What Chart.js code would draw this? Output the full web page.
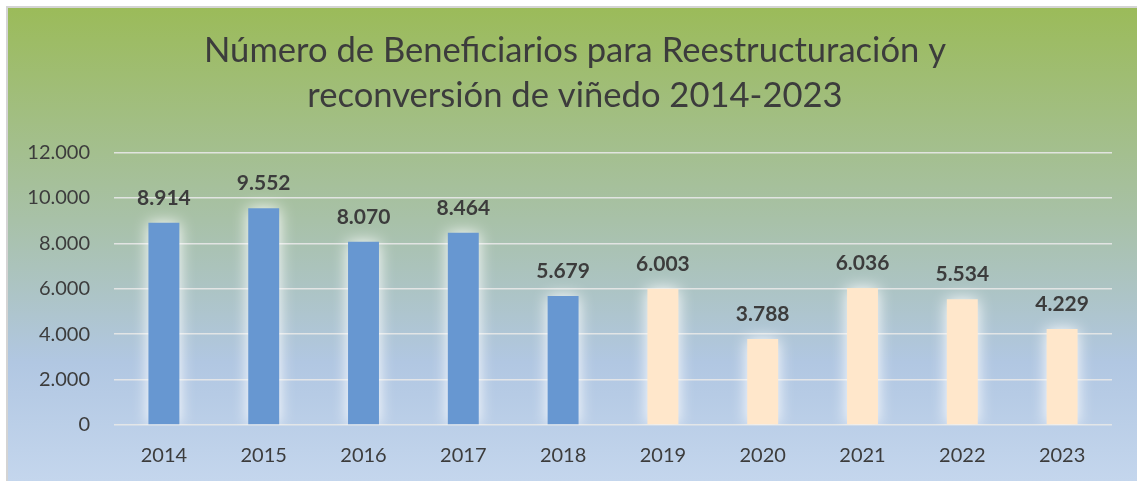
<!DOCTYPE html>
<html>
<head>
<meta charset="utf-8">
<script src="https://cdn.jsdelivr.net/npm/chart.js@4"></script>
<style>
  html, body { margin: 0; padding: 0; background: #fff; overflow: hidden; }
  #wrap { width: 1137px; height: 481px; }
  canvas { display: block; }
</style>
</head>
<body>
<div id="wrap"><canvas id="chart" width="1137" height="481"></canvas></div>
<script>
// data
const years = ['2014', '2015', '2016', '2017', '2018', '2019', '2020', '2021', '2022', '2023'];
const beneficiarios = [8914, 9552, 8070, 8464, 5679, 6003, 3788, 6036, 5534, 4229];
const yTicks = [0, 2000, 4000, 6000, 8000, 10000, 12000];
const titleLines = ['Número de Beneficiarios para Reestructuración y', 'reconversión de viñedo 2014-2023'];

const BLUE = '#6797D1';
const PEACH = '#FFE7CB';
const TEXT = '#3c3c3c';
const barColors = years.map(y => Number(y) < 2019 ? BLUE : PEACH);

const fmt = v => String(v).replace(/\B(?=(\d{3})+(?!\d))/g, '.');

// gradient panel + border
const background = {
  id: 'background',
  beforeDraw(chart) {
    const { ctx, width, height } = chart;
    ctx.save();
    ctx.fillStyle = '#fff';
    ctx.fillRect(0, 0, width, height);
    const g = ctx.createLinearGradient(0, 7, 0, height);
    g.addColorStop(0, '#9BBB59');
    g.addColorStop(0.45, '#A8C1A8');
    g.addColorStop(0.75, '#B1C7E2');
    g.addColorStop(1, '#C4D6ED');
    ctx.fillStyle = g;
    ctx.fillRect(7, 7, width - 7, height - 7);
    ctx.strokeStyle = '#D4D4D4';
    ctx.lineWidth = 2;
    ctx.beginPath();
    ctx.moveTo(7, height);
    ctx.lineTo(7, 7);
    ctx.lineTo(width, 7);
    ctx.stroke();
    ctx.restore();
  }
};

// soft white glow round the bars
const glow = {
  id: 'glow',
  beforeDatasetDraw(chart) {
    const ctx = chart.ctx;
    ctx.save();
    ctx.shadowColor = 'rgba(255,255,255,1)';
    ctx.shadowBlur = 16;
  },
  afterDatasetDraw(chart) {
    chart.ctx.restore();
  }
};

// value labels above bars
const valueLabels = {
  id: 'valueLabels',
  afterDatasetsDraw(chart) {
    const { ctx } = chart;
    const meta = chart.getDatasetMeta(0);
    ctx.save();
    ctx.font = 'bold 21px Lato';
    ctx.fillStyle = TEXT;
    ctx.textAlign = 'center';
    ctx.textBaseline = 'alphabetic';
    meta.data.forEach((bar, i) => {
      ctx.fillText(fmt(beneficiarios[i]), bar.x, bar.y - 18);
    });
    ctx.restore();
  }
};

new Chart(document.getElementById('chart'), {
  type: 'bar',
  data: {
    labels: years,
    datasets: [{
      data: beneficiarios,
      backgroundColor: barColors,
      borderWidth: 0,
      categoryPercentage: 1,
      barPercentage: 0.31
    }]
  },
  options: {
    responsive: false,
    animation: false,
    devicePixelRatio: 1,
    layout: { padding: { left: 13, right: 0, top: 7, bottom: 0 } },
    plugins: {
      legend: { display: false },
      tooltip: { enabled: false },
      title: {
        display: true,
        text: titleLines,
        color: TEXT,
        font: { family: 'Lato', size: 34.6, weight: 'normal', lineHeight: 1.28 },
        padding: { top: 22, bottom: 35 }
      }
    },
    scales: {
      x: {
        afterFit(scale) { scale.height = 56; },
        grid: { display: false, drawTicks: false },
        border: { display: false },
        ticks: { color: TEXT, font: { family: 'Lato', size: 20 }, padding: 19 }
      },
      y: {
        min: 0,
        max: 12000,
        afterFit(scale) { scale.width = 101; },
        afterBuildTicks(scale) { scale.ticks = yTicks.map(v => ({ value: v })); },
        grid: { color: 'rgba(232,232,232,0.9)', lineWidth: 1.5, drawTicks: false },
        border: { display: false },
        ticks: { color: TEXT, font: { family: 'Lato', size: 20 }, padding: 24, callback: v => fmt(v) }
      },
      // empty right gutter
      yRight: {
        position: 'right',
        afterFit(scale) { scale.width = 25; },
        grid: { display: false, drawTicks: false },
        border: { display: false },
        ticks: { display: false }
      }
    }
  },
  plugins: [background, glow, valueLabels]
});
</script>
</body>
</html>
